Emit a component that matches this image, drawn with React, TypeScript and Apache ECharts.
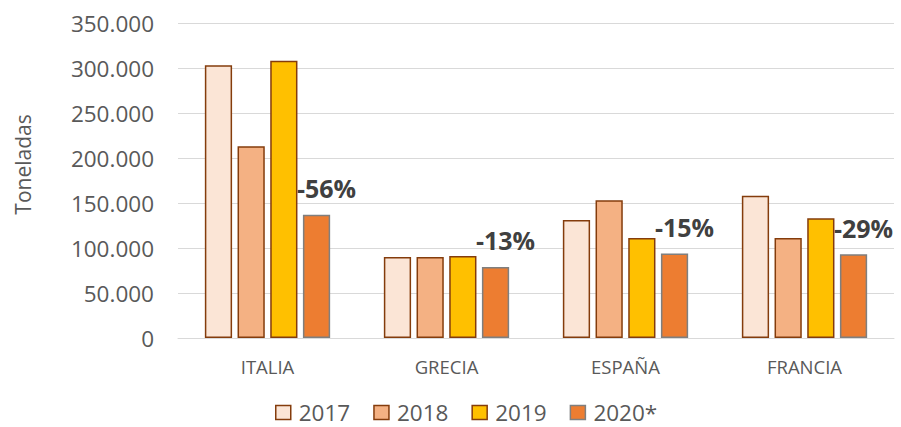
import React, { useEffect, useRef } from "react";
import * as echarts from "echarts";

const categories = ["ITALIA", "GRECIA", "ESPAÑA", "FRANCIA"];
const years = ["2017", "2018", "2019", "2020*"];
const v2017 = [303000, 90000, 131000, 158000];
const v2018 = [213000, 90000, 153000, 111000];
const v2019 = [308000, 91000, 111000, 133000];
const v2020 = [137000, 79000, 94000, 93000];
const changeLabels = ["-56%", "-13%", "-15%", "-29%"];
const yTicks = [0, 50000, 100000, 150000, 200000, 250000, 300000, 350000];

const fills = ["#FBE5D6", "#F4B183", "#FFC000", "#ED7D31"];
const borders = ["#843C0C", "#843C0C", "#843C0C", "#7F7F7F"];

const fmt = (v: number) =>
  v === 0 ? "0" : Math.round(v).toString().replace(/\B(?=(\d{3})+(?!\d))/g, ".");

export default function App() {
  const ref = useRef<HTMLDivElement>(null);
  useEffect(() => {
    if (!ref.current) return;
    const chart = echarts.init(ref.current, null, { renderer: "svg" });
    const all = [v2017, v2018, v2019, v2020];
    chart.setOption({
      animation: false,
      textStyle: { fontFamily: "Open Sans, Noto Sans, sans-serif" },
      grid: { left: 178, right: 7, top: 23, bottom: 89 },
      legend: {
        top: 401,
        left: 275,
        padding: 0,
        itemWidth: 15,
        itemHeight: 14,
        itemGap: 23,
        textStyle: {
          fontSize: 22.5,
          lineHeight: 22,
          color: "#595959",
          fontFamily: "Open Sans, sans-serif",
          padding: [0, 0, 0, 3],
        },
        data: years.map((y, i) => ({
          name: y,
          icon: "rect",
          itemStyle: { color: fills[i], borderColor: borders[i], borderWidth: 1.5 },
        })),
      },
      xAxis: {
        type: "category",
        data: categories,
        axisLine: { lineStyle: { color: "#D9D9D9", width: 1 } },
        axisTick: { show: false },
        axisLabel: { fontSize: 18.5, color: "#595959", margin: 19 },
      },
      yAxis: {
        type: "value",
        min: 0,
        max: 350000,
        interval: 50000,
        name: "Toneladas",
        nameLocation: "middle",
        nameGap: 145,
        nameTextStyle: { fontSize: 21, color: "#595959", padding: [0, 0, 0, 32] },
        axisLine: { show: false },
        axisTick: { show: false },
        splitLine: { lineStyle: { color: "#D9D9D9", width: 1 } },
        axisLabel: {
          fontSize: 22.5,
          color: "#595959",
          margin: 24,
          formatter: (v: number) => (yTicks.includes(v) ? fmt(v) : ""),
        },
      },
      series: years.map((y, i) => ({
        name: y,
        type: "bar",
        data: all[i],
        barGap: "20%",
        barCategoryGap: "30%",
        itemStyle: { color: fills[i], borderColor: borders[i], borderWidth: 1.5 },
        label:
          i === 3
            ? {
                show: true,
                position: "top",
                distance: 14,
                offset: [10, 0],
                fontSize: 25,
                fontWeight: "bold",
                color: "#404040",
                formatter: (p: any) => changeLabels[p.dataIndex],
              }
            : { show: false },
      })),
    });
    return () => chart.dispose();
  }, []);
  return (
    <div
      ref={ref}
      style={{ position: "absolute", left: 0, top: 0, width: 901, height: 427 }}
    />
  );
}
